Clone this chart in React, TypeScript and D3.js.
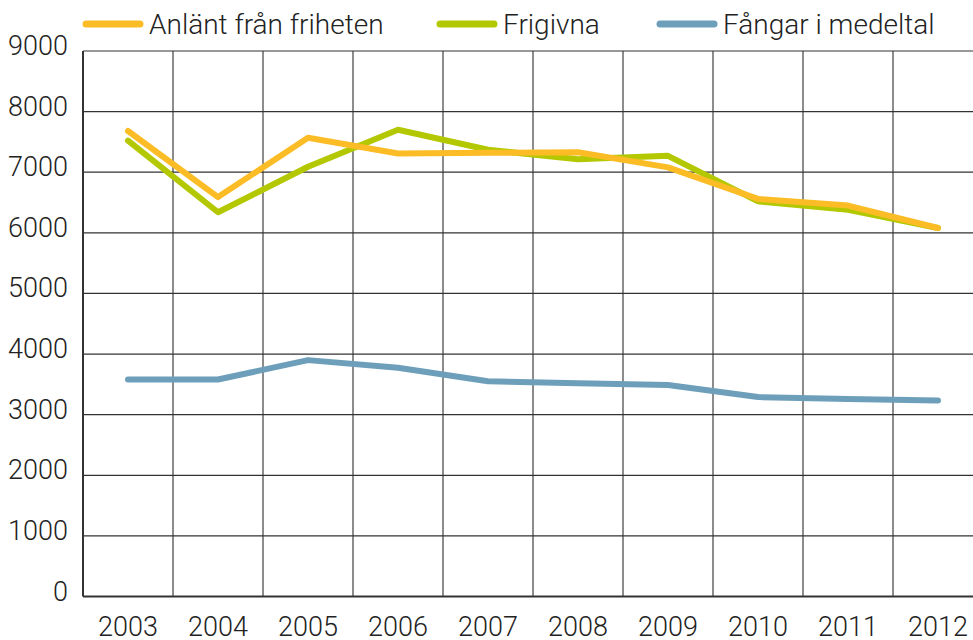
import React from "react";
import * as d3 from "d3";

const years = ["2003","2004","2005","2006","2007","2008","2009","2010","2011","2012"];
const anlant = [7680, 6590, 7570, 7310, 7320, 7330, 7080, 6560, 6450, 6080];
const frigivna = [7520, 6340, 7090, 7700, 7370, 7215, 7270, 6520, 6380, 6080];
const fangar = [3580, 3580, 3900, 3775, 3550, 3520, 3490, 3290, 3260, 3235];
const yTicks = [0, 1000, 2000, 3000, 4000, 5000, 6000, 7000, 8000, 9000];

const series = [
  { name: "Frigivna", values: frigivna, color: "#B3C800" },
  { name: "Anlänt från friheten", values: anlant, color: "#FBBC25" },
  { name: "Fångar i medeltal", values: fangar, color: "#6E9FBA" },
];
const legendOrder = ["Anlänt från friheten", "Frigivna", "Fångar i medeltal"];
const legendX = [83, 437, 657];

const W = 973, H = 640;
const left = 83, bottom = 596.5, top = 51;

export default function App() {
  const x = d3.scaleBand().domain(years).range([left, left + 900]);
  const y = d3.scaleLinear().domain([0, 9000]).range([bottom, top]);
  const line = d3.line<number>()
    .x((_, i) => (x(years[i]) as number) + x.bandwidth() / 2)
    .y((v) => y(v));
  const font = "Roboto, 'DejaVu Sans', sans-serif";
  return (
    <div style={{ position: "absolute", left: 0, top: 0 }}>
      <svg width={W} height={H} style={{ display: "block", background: "#fff" }}>
        {years.map((yr, i) => i > 0 ? (
          <line key={yr} x1={x(yr)} x2={x(yr)} y1={top} y2={bottom} stroke="#666" strokeWidth={1.5} />
        ) : null)}
        {yTicks.filter(t => t > 0).map(t => (
          <line key={t} x1={left} x2={W} y1={y(t)} y2={y(t)} stroke="#333" strokeWidth={1.2} />
        ))}
        <line x1={left} x2={left} y1={top} y2={bottom} stroke="#333" strokeWidth={2} />
        <line x1={left} x2={W} y1={bottom} y2={bottom} stroke="#333" strokeWidth={2} />
        {yTicks.map(t => (
          <text key={t} x={68} y={y(t) + 4} textAnchor="end" fontFamily={font} fontWeight={300} fontSize={27} fill="#222">{t}</text>
        ))}
        {years.map(yr => (
          <text key={yr} x={(x(yr) as number) + x.bandwidth() / 2} y={636} textAnchor="middle" fontFamily={font} fontWeight={300} fontSize={27} fill="#222">{yr}</text>
        ))}
        {series.map(s => (
          <path key={s.name} d={line(s.values) as string} fill="none" stroke={s.color} strokeWidth={6} strokeLinecap="round" strokeLinejoin="round" />
        ))}
        {legendOrder.map((name, i) => {
          const s = series.find(d => d.name === name)!;
          const lx = legendX[i];
          return (
            <g key={name}>
              <line x1={lx + 3} x2={lx + 57} y1={24} y2={24} stroke={s.color} strokeWidth={7} strokeLinecap="round" />
              <text x={lx + 66} y={34} fontFamily={font} fontWeight={300} fontSize={28} fill="#222">{name}</text>
            </g>
          );
        })}
      </svg>
    </div>
  );
}
